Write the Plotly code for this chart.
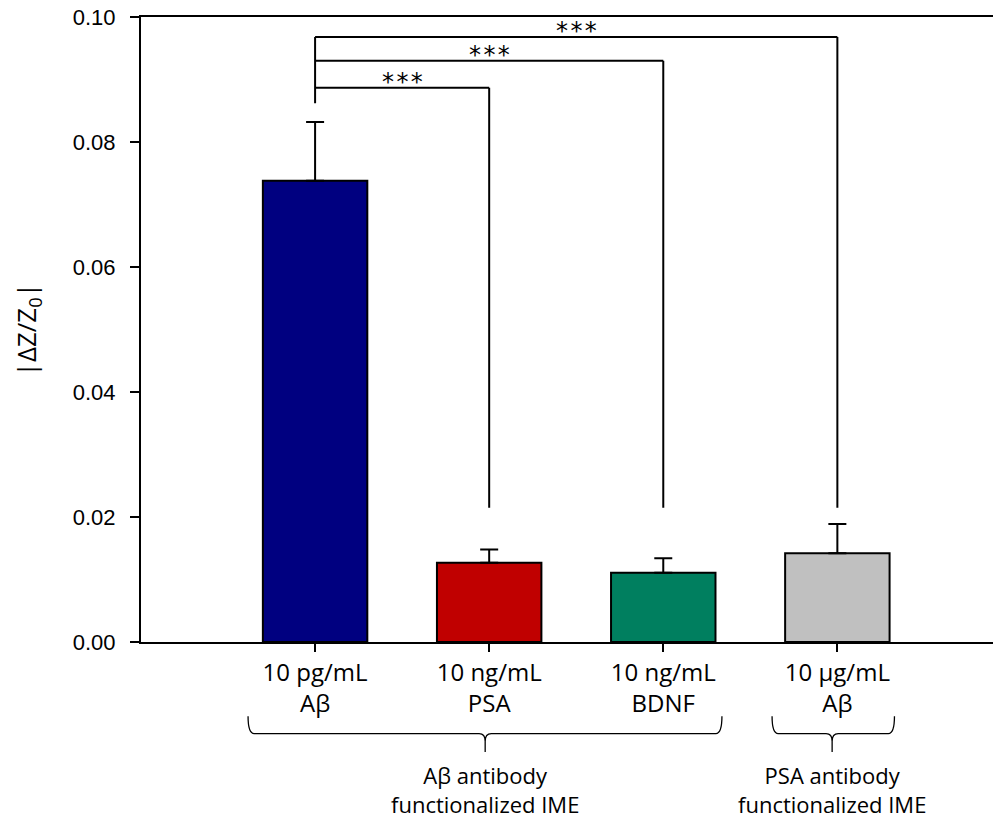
import plotly.graph_objects as go

# ---- data ----
categories = ["10 pg/mL<br>Aβ", "10 ng/mL<br>PSA", "10 ng/mL<br>BDNF", "10 μg/mL<br>Aβ"]
means = [0.0738, 0.0127, 0.0111, 0.0142]
errors = [0.0094, 0.0021, 0.0023, 0.0047]
colors = ["#000080", "#C00000", "#007F5F", "#C0C0C0"]
y_ticks = [0.00, 0.02, 0.04, 0.06, 0.08, 0.10]

# significance brackets: (from bar, to bar, bracket height, label)
brk_from = [0, 0, 0]
brk_to = [1, 2, 3]
brk_height = [0.0887, 0.0930, 0.0968]
brk_label = ["*\u200a*\u200a*", "*\u200a*\u200a*", "*\u200a*\u200a*"]
brk_left_bottom = 0.0862
brk_right_bottom = 0.0215

# group braces: (start, end, tip, label)
grp_start = [-0.385, 2.625]
grp_end = [2.337, 3.328]
grp_tip = [0.977, 2.970]
grp_label = ["Aβ antibody<br>functionalized IME", "PSA antibody<br>functionalized IME"]

xpos = list(range(len(categories)))

fig = go.Figure()
fig.add_trace(go.Bar(
    x=xpos, y=means, width=0.6,
    marker=dict(color=colors, line=dict(color="black", width=2)),
    error_y=dict(type="data", array=errors, arrayminus=[0] * len(errors), symmetric=False,
                 color="black", thickness=2, width=9),
    showlegend=False,
))

shapes = []
line_style = dict(color="black", width=2)
for f, t, h in zip(brk_from, brk_to, brk_height):
    shapes.append(dict(type="line", xref="x", yref="y", x0=f, x1=t, y0=h, y1=h, line=line_style))
    shapes.append(dict(type="line", xref="x", yref="y", x0=t, x1=t, y0=brk_right_bottom, y1=h, line=line_style))
shapes.append(dict(type="line", xref="x", yref="y", x0=0, x1=0, y0=brk_left_bottom, y1=max(brk_height), line=line_style))

annotations = []
for f, t, h, lab in zip(brk_from, brk_to, brk_height, brk_label):
    annotations.append(dict(x=(f + t) / 2, y=h, xref="x", yref="y", text=lab, showarrow=False,
                            yanchor="bottom", yshift=-10,
                            font=dict(family="DejaVu Sans", size=24, color="black")))

# braces (paper y coords below the axis)
y_top, y_mid, y_tip = -0.1189, -0.1466, -0.176
dx = 0.035
dy = 0.012
for s, e, tp, lab in zip(grp_start, grp_end, grp_tip, grp_label):
    path = (f"M {s},{y_top} Q {s},{y_mid} {s+dx},{y_mid} L {tp-dx},{y_mid} "
            f"Q {tp},{y_mid} {tp},{y_mid-dy} L {tp},{y_tip} "
            f"M {tp},{y_mid-dy} Q {tp},{y_mid} {tp+dx},{y_mid} L {e-dx},{y_mid} "
            f"Q {e},{y_mid} {e},{y_top}")
    shapes.append(dict(type="path", xref="x", yref="paper", path=path,
                       line=dict(color="black", width=1.3)))
    annotations.append(dict(x=tp, y=-0.1856, xref="x", yref="paper", text=lab, showarrow=False,
                            yanchor="top", align="center",
                            font=dict(family="Open Sans", size=22, color="black")))

# y-axis title
annotations.append(dict(x=-0.1327, y=0.5, xref="paper", yref="paper",
                        text="|ΔZ/Z<sub>0</sub>|", textangle=-90, showarrow=False,
                        xanchor="center", yanchor="middle", xshift=0,
                        font=dict(family="Open Sans", size=26, color="black")))

# page body has an 8px margin: compensate so the plot lands where the reference is
fig.update_layout(
    width=993, height=812,
    margin=dict(l=133, r=0, t=9, b=178),
    paper_bgcolor="white", plot_bgcolor="white",
    shapes=shapes, annotations=annotations,
    xaxis=dict(range=[-1, 3.94], tickvals=xpos, ticktext=categories,
               showline=True, linecolor="black", linewidth=2, mirror=True,
               ticks="outside", ticklen=8, tickwidth=2, tickcolor="black",
               showgrid=False, zeroline=False, automargin=False,
               tickfont=dict(family="Open Sans", size=24, color="black")),
    yaxis=dict(range=[0, 0.1], tickvals=y_ticks, tickformat=".2f",
               showline=True, linecolor="black", linewidth=2,
               ticks="outside", ticklen=9, tickwidth=2, tickcolor="black",
               showgrid=False, zeroline=False, ticklabeloverflow="allow",
               ticklabelstandoff=10, automargin=False,
               tickfont=dict(family="Liberation Sans", size=22, color="black")),
    bargap=0.4,
)

fig.write_html("out.html")
